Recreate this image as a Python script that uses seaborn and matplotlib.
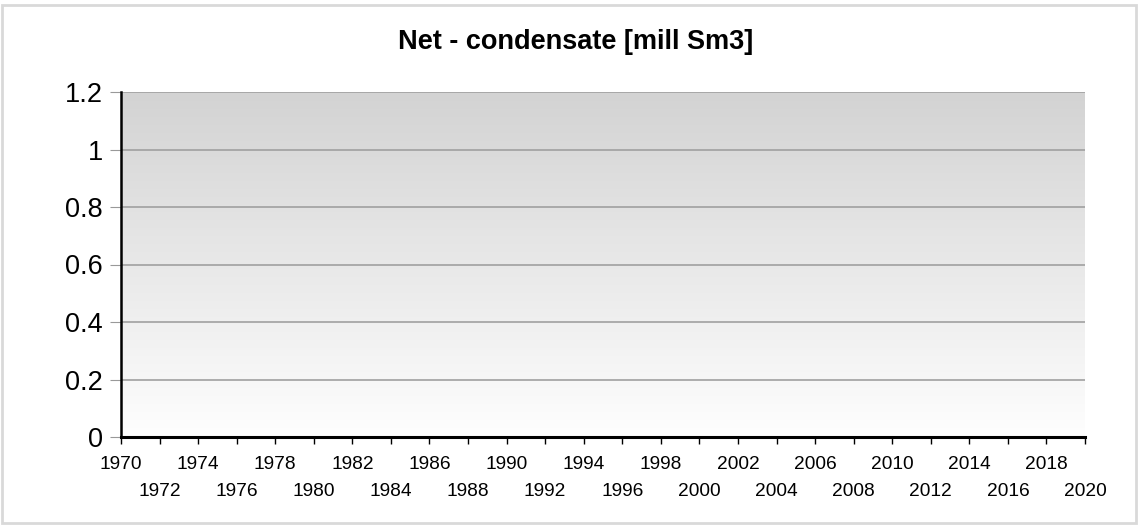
import numpy as np
import pandas as pd
import seaborn as sns
import matplotlib.pyplot as plt
from matplotlib.colors import LinearSegmentedColormap
from matplotlib.patches import Rectangle

# Data (the chart has no recorded values)
years = []
condensate = []
tick_years = list(range(1970, 2021, 2))
y_ticks = [0, 0.2, 0.4, 0.6, 0.8, 1.0, 1.2]
y_labels = ["0", "0.2", "0.4", "0.6", "0.8", "1", "1.2"]

df = pd.DataFrame({"year": pd.Series(years, dtype=float),
                   "value": pd.Series(condensate, dtype=float)})

sns.set_style("white")
plt.rcParams["font.family"] = ["Liberation Sans", "DejaVu Sans"]
plt.rcParams["text.color"] = "black"
plt.rcParams["xtick.color"] = "black"
plt.rcParams["ytick.color"] = "black"

fig = plt.figure(figsize=(11.38, 5.25), dpi=100)
ax = fig.add_axes([121 / 1138, 1 - 437 / 525, (1085 - 121) / 1138, (437 - 92) / 525])

# gradient background of the plot area
grad = np.linspace(0, 1, 256).reshape(-1, 1)
ax.imshow(grad, extent=[1970, 2020, 0, 1.2], aspect="auto", origin="lower",
          cmap=LinearSegmentedColormap.from_list("g", ["#fefefe", "#d3d3d3"]),
          zorder=0)

sns.lineplot(data=df, x="year", y="value", ax=ax, color="#1f4e79")

ax.set_xlim(1970, 2020)
ax.set_ylim(0, 1.2)
ax.set_yticks(y_ticks)
ax.set_yticklabels(y_labels, fontsize=19.5)
ax.set_xticks(tick_years)
ax.set_xticklabels([str(y) if i % 2 == 0 else "\n" + str(y)
                    for i, y in enumerate(tick_years)], fontsize=13.8,
                   linespacing=1.72)
for y in y_ticks[1:]:
    ax.axhline(y, color="#a0a0a0", lw=1.2, zorder=1)

ax.tick_params(axis="y", length=8, color="#999999", labelcolor="black", pad=5, left=True)
ax.tick_params(axis="x", length=5, color="black", labelcolor="black", width=1, pad=9,
               bottom=True)
ax.set_xlabel("")
ax.set_ylabel("")
for s in ["top", "right"]:
    ax.spines[s].set_visible(False)
ax.spines["left"].set_linewidth(1.8)
ax.spines["bottom"].set_linewidth(2.2)
ax.spines["left"].set_color("black")
ax.spines["bottom"].set_color("black")

fig.text(576 / 1138, 1 - 42 / 525, "Net - condensate [mill Sm3]",
         ha="center", va="center", fontsize=19.5, fontweight="bold", color="black")

fig.patches.append(Rectangle((2 / 1138, 0.003), 1 - 4 / 1138, 1 - 5 / 525 - 0.003,
                             transform=fig.transFigure, fill=False,
                             edgecolor="#d9d9d9", lw=2))

fig.savefig("out.png", dpi=100)
